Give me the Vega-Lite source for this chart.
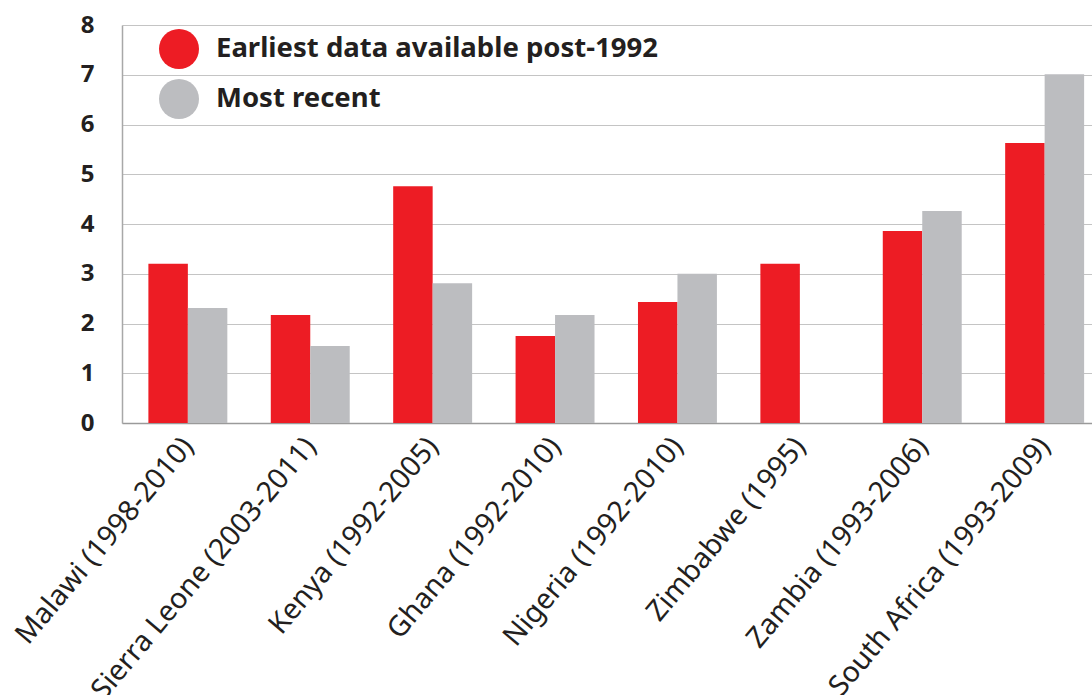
{
  "$schema": "https://vega.github.io/schema/vega-lite/v6.json",
  "autosize": {"type": "none"},
  "padding": {"left": 122, "top": 25, "right": 0, "bottom": 272},
  "width": 970,
  "height": 398,
  "config": {
    "view": {"stroke": null},
    "font": "Noto Sans"
  },
  "data": {
    "values": [
      {"country": "Malawi (1998-2010)", "series": "Earliest data available post-1992", "value": 3.2},
      {"country": "Malawi (1998-2010)", "series": "Most recent", "value": 2.31},
      {"country": "Sierra Leone (2003-2011)", "series": "Earliest data available post-1992", "value": 2.17},
      {"country": "Sierra Leone (2003-2011)", "series": "Most recent", "value": 1.55},
      {"country": "Kenya (1992-2005)", "series": "Earliest data available post-1992", "value": 4.76},
      {"country": "Kenya (1992-2005)", "series": "Most recent", "value": 2.81},
      {"country": "Ghana (1992-2010)", "series": "Earliest data available post-1992", "value": 1.75},
      {"country": "Ghana (1992-2010)", "series": "Most recent", "value": 2.17},
      {"country": "Nigeria (1992-2010)", "series": "Earliest data available post-1992", "value": 2.43},
      {"country": "Nigeria (1992-2010)", "series": "Most recent", "value": 3.0},
      {"country": "Zimbabwe (1995)", "series": "Earliest data available post-1992", "value": 3.2},
      {"country": "Zambia (1993-2006)", "series": "Earliest data available post-1992", "value": 3.86},
      {"country": "Zambia (1993-2006)", "series": "Most recent", "value": 4.26},
      {"country": "South Africa (1993-2009)", "series": "Earliest data available post-1992", "value": 5.63},
      {"country": "South Africa (1993-2009)", "series": "Most recent", "value": 7.01}
    ]
  },
  "mark": {"type": "bar"},
  "encoding": {
    "x": {
      "field": "country",
      "type": "nominal",
      "sort": null,
      "scale": {"paddingInner": 0.355, "paddingOuter": 0.14, "align": 0.77},
      "axis": {
        "title": null,
        "ticks": false,
        "domainColor": "#9a9a9a",
        "domainWidth": 1.5,
        "labelAngle": -50,
        "labelAlign": "right",
        "labelBaseline": "middle",
        "labelFontSize": 28.5,
        "labelColor": "#231f20",
        "labelPadding": 18,
        "labelLimit": 0,
        "labelOverlap": false
      }
    },
    "xOffset": {
      "field": "series",
      "type": "nominal",
      "scale": {"paddingInner": 0, "paddingOuter": 0},
      "sort": ["Earliest data available post-1992", "Most recent"]
    },
    "y": {
      "field": "value",
      "type": "quantitative",
      "scale": {"domain": [0, 8], "nice": false},
      "axis": {
        "title": null,
        "values": [0, 1, 2, 3, 4, 5, 6, 7, 8],
        "ticks": false,
        "domainColor": "#a8a8a8",
        "domainWidth": 1.5,
        "gridColor": "#c4c4c4",
        "gridWidth": 1.2,
        "labelPadding": 28,
        "labelFontSize": 24,
        "labelFontWeight": "bold",
        "labelColor": "#231f20"
      }
    },
    "color": {
      "field": "series",
      "type": "nominal",
      "scale": {
        "domain": ["Earliest data available post-1992", "Most recent"],
        "range": ["#ed1c24", "#bcbdc0"]
      },
      "legend": {
        "title": null,
        "orient": "none",
        "legendX": 37,
        "legendY": 4,
        "padding": 0,
        "symbolType": "circle",
        "symbolSize": 1600,
        "symbolStrokeWidth": 0,
        "symbolOpacity": 1,
        "rowPadding": 10,
        "labelFontSize": 27.5,
        "labelFontWeight": "bold",
        "labelColor": "#231f20",
        "labelOffset": 17,
        "labelLimit": 0
      }
    }
  }
}
